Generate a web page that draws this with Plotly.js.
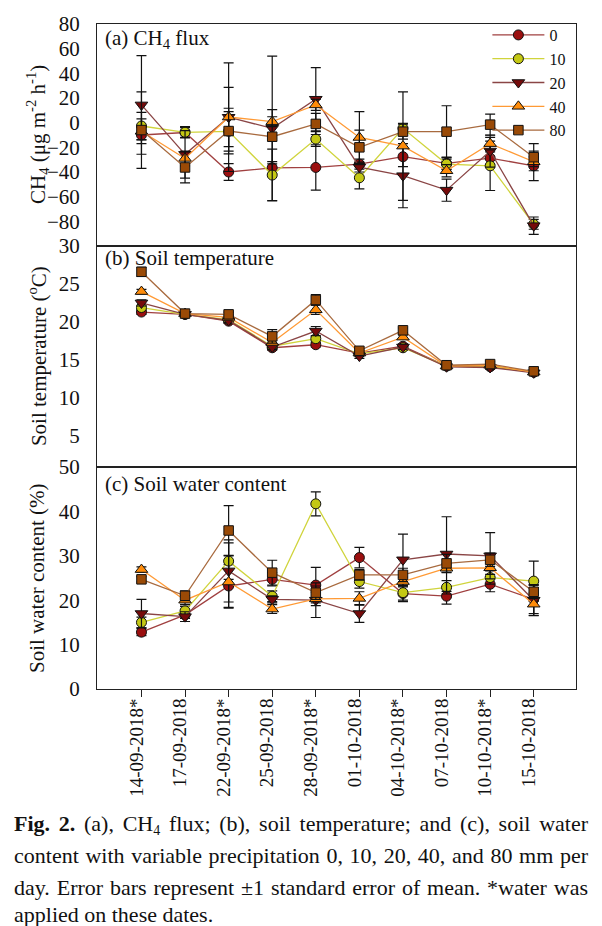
<!DOCTYPE html>
<html>
<head>
<meta charset="utf-8">
<script src="https://cdn.plot.ly/plotly-3.0.1.min.js"></script>
<style>
  html, body { margin: 0; padding: 0; background: #ffffff; }
  #chart { position: absolute; left: 0; top: 0; width: 602px; height: 926px; }
  .cap {
    position: absolute; left: 14px; width: 574px; height: 22px;
    font-family: 'Liberation Serif', serif; white-space: nowrap;
    font-size: 22px; line-height: 22px; color: #111;
    text-align: justify; text-align-last: justify;
  }
  .cap.last { text-align: left; text-align-last: left; }
  .cap sub { font-size: 14px; line-height: 0; vertical-align: -4px; }
</style>
</head>
<body>
<div id="chart"></div>
<div class="cap" style="top:813px;"><b>Fig. 2.</b> (a), CH<sub>4</sub> flux; (b), soil temperature; and (c), soil water</div>
<div class="cap" style="top:845px;">content with variable precipitation 0, 10, 20, 40, and 80 mm per</div>
<div class="cap" style="top:877px;">day. Error bars represent ±1 standard error of mean. *water was</div>
<div class="cap last" style="top:904px;">applied on these dates.</div>
<script>
// ---------- data ----------
const dateLabels = ['14-09-2018*','17-09-2018','22-09-2018*','25-09-2018','28-09-2018*',
                    '01-10-2018','04-10-2018*','07-10-2018','10-10-2018*','15-10-2018'];
const seriesNames = ['0','10','20','40','80'];

// (a) CH4 flux (µg m-2 h-1)
const ch4_0  = [-10, -8, -40, -36.6, -36.3, -33.6, -27.6, -33, -28.7, -35];
const ch4_10 = [-2.7, -7.8, -7, -42.5, -13.3, -44.7, -4.6, -33.6, -35, -82.4];
const ch4_20 = [14.4, -25.7, 4.4, -4.6, 19, -36, -43, -54.7, -23, -83.5];
const ch4_40 = [-7, -29, 4.6, 0.8, 14.4, -12, -19, -39, -17, -31.7];
const ch4_80 = [-6, -36.3, -6.8, -11.4, -1, -20, -7.3, -7.3, -1.6, -28];
const ch4_0_se  = [4, 4, 6.8, 5, 18.4, 4, 8, 5, 5, 12];
const ch4_10_se = [11, 4.6, 16, 21, 6, 9, 4, 4, 20, 4];
const ch4_20_se = [40, 19.3, 44, 58.5, 25.7, 4, 26, 9, 13, 7];
const ch4_40_se = [10, 6, 24, 4, 4.5, 21, 44, 5, 5, 4];
const ch4_80_se = [31, 12.5, 18.5, 22, 8.6, 14, 6, 21, 8.6, 11];

// (b) soil temperature (°C)
const temp_0  = [21.3, 21.0, 20.1, 16.6, 17.0, 15.9, 16.8, 14.2, 14.1, 13.4];
const temp_10 = [21.9, 21.0, 20.3, 16.8, 17.8, 15.8, 16.6, 14.2, 14.2, 13.4];
const temp_20 = [22.5, 21.0, 20.2, 16.7, 18.8, 15.5, 16.7, 14.1, 14.0, 13.3];
const temp_40 = [24.0, 21.1, 20.6, 17.3, 21.6, 15.9, 18.0, 14.2, 14.3, 13.4];
const temp_80 = [26.6, 21.1, 21.0, 18.1, 22.9, 16.2, 18.9, 14.3, 14.45, 13.5];
const temp_0_se  = [0.3, 0.2, 0.3, 0.3, 0.3, 0.3, 0.3, 0.2, 0.2, 0.2];
const temp_10_se = [0.3, 0.2, 0.3, 0.3, 0.3, 0.3, 0.3, 0.2, 0.2, 0.2];
const temp_20_se = [0.4, 0.2, 0.3, 0.3, 0.6, 0.3, 0.3, 0.2, 0.2, 0.2];
const temp_40_se = [0.3, 0.2, 0.3, 0.3, 0.6, 0.3, 0.3, 0.2, 0.2, 0.2];
const temp_80_se = [0.6, 0.2, 0.3, 0.9, 0.7, 0.3, 0.3, 0.3, 0.3, 0.2];

// (c) soil water content (%)
const swc_0  = [12.8, 16.7, 23.2, 24.7, 23.4, 29.6, 21.5, 20.9, 23.6, 20.2];
const swc_10 = [15.0, 17.6, 28.8, 20.9, 41.7, 24.2, 21.7, 22.9, 25.1, 24.3];
const swc_20 = [17.0, 16.3, 26.6, 20.2, 20.0, 17.0, 29.1, 30.4, 30.0, 20.0];
const swc_40 = [26.9, 20.0, 24.1, 18.0, 20.3, 20.4, 24.2, 27.2, 27.3, 19.1];
const swc_80 = [24.7, 21.0, 35.7, 26.2, 21.7, 25.7, 25.7, 28.3, 29.1, 21.9];
const swc_0_se  = [0.8, 0.8, 4.8, 1.5, 4.0, 2.3, 1.5, 1.8, 1.7, 3.2];
const swc_10_se = [1.2, 1.0, 4.1, 1.2, 2.7, 1.5, 2.0, 1.5, 1.5, 4.5];
const swc_20_se = [3.2, 1.1, 7.0, 0.8, 3.9, 2.0, 5.8, 8.4, 5.2, 3.5];
const swc_40_se = [0.6, 1.0, 5.9, 1.0, 1.5, 1.5, 1.0, 1.0, 1.5, 2.5];
const swc_80_se = [0.6, 1.1, 5.6, 2.8, 1.5, 1.2, 1.5, 2.0, 1.5, 1.5];

const ch4Ticks  = [-80, -60, -40, -20, 0, 20, 40, 60, 80];
const tempTicks = [5, 10, 15, 20, 25, 30];
const swcTicks  = [0, 10, 20, 30, 40, 50];

// ---------- styles ----------
const markerFill = ['#9b0f0f', '#c4c814', '#760b0b', '#ff8c0a', '#9a4a06'];
const lineColor  = ['#a04040', '#d0d43c', '#8a4545', '#ff9a35', '#a86a3e'];
const symbols    = ['circle', 'circle', 'triangle-down', 'triangle-up', 'square'];
const sizes      = [10, 10, 11, 11, 9.5];
const FONT = 'Liberation Serif, Times New Roman, serif';

const panels = [
  {x: 'x', y: 'y',  vals: [ch4_0, ch4_10, ch4_20, ch4_40, ch4_80],
   se: [ch4_0_se, ch4_10_se, ch4_20_se, ch4_40_se, ch4_80_se], legend: true},
  {x: 'x2', y: 'y2', vals: [temp_0, temp_10, temp_20, temp_40, temp_80],
   se: [temp_0_se, temp_10_se, temp_20_se, temp_40_se, temp_80_se], legend: false},
  {x: 'x3', y: 'y3', vals: [swc_0, swc_10, swc_20, swc_40, swc_80],
   se: [swc_0_se, swc_10_se, swc_20_se, swc_40_se, swc_80_se], legend: false}
];

const traces = [];
panels.forEach(p => {
  seriesNames.forEach((name, i) => {
    traces.push({
      type: 'scatter', mode: 'lines+markers',
      x: dateLabels, y: p.vals[i], xaxis: p.x, yaxis: p.y,
      name: name, showlegend: p.legend,
      line: {color: lineColor[i], width: 1.3},
      marker: {symbol: symbols[i], size: sizes[i], color: markerFill[i],
               line: {color: '#111', width: 1}},
      error_y: {type: 'data', array: p.se[i], visible: true,
                color: '#111', thickness: 1.2, width: 5}
    });
  });
});

// plot area: left 97, right 576, top 24, bottom 689 (px)
const W = 602, H = 926, L = 97, R = 26, T = 24, B = 926 - 689;
const ph = H - T - B;
const dA = [(689 - 246) / ph, 1];
const dB = [(689 - 467) / ph, (689 - 246) / ph];
const dC = [0, (689 - 467) / ph];

const baseX = {
  type: 'category', range: [-1.02, 9.97], showline: true, mirror: true,
  linecolor: '#222', linewidth: 1, showgrid: false, zeroline: false
};
const baseY = {
  showline: true, mirror: true, linecolor: '#222', linewidth: 1,
  showgrid: false, zeroline: false, ticks: '', ticklabelstandoff: 12,
  tickfont: {family: FONT, size: 21, color: '#111'}
};

const yTitleX = (37 - L) / (W - L - R);
const layout = {
  width: W, height: H,
  margin: {l: L, r: R, t: T, b: B},
  paper_bgcolor: '#ffffff', plot_bgcolor: '#ffffff',
  font: {family: FONT, color: '#111'},
  showlegend: true,
  legend: {x: 0.815, y: 1.009, xanchor: 'left', yanchor: 'top',
           bgcolor: 'rgba(0,0,0,0)', font: {family: FONT, size: 16, color: '#111'},
           tracegroupgap: 0, itemwidth: 52},
  xaxis:  Object.assign({}, baseX, {anchor: 'y', matches: 'x3', showticklabels: false, ticks: ''}),
  xaxis2: Object.assign({}, baseX, {anchor: 'y2', matches: 'x3', showticklabels: false, ticks: ''}),
  xaxis3: Object.assign({}, baseX, {anchor: 'y3', ticks: 'outside', ticklen: 7, tickcolor: '#222',
          tickangle: -90, ticklabelshift: -5, ticklabelstandoff: -6,
          tickfont: {family: FONT, size: 19, color: '#111'}}),
  yaxis:  Object.assign({}, baseY, {domain: dA, range: [-100, 80], tickvals: ch4Ticks}),
  yaxis2: Object.assign({}, baseY, {domain: dB, range: [0.9, 30], tickvals: tempTicks}),
  yaxis3: Object.assign({}, baseY, {domain: dC, range: [0, 50], tickvals: swcTicks}),
  annotations: [
    {xref: 'paper', yref: 'y', x: 0.012, y: 68, xanchor: 'left', yanchor: 'middle', showarrow: false,
     text: '(a) CH<sub>4</sub> flux', font: {family: FONT, size: 21, color: '#111'}},
    {xref: 'paper', yref: 'y2', x: 0.012, y: 28.4, xanchor: 'left', yanchor: 'middle', showarrow: false,
     text: '(b) Soil temperature', font: {family: FONT, size: 21, color: '#111'}},
    {xref: 'paper', yref: 'y3', x: 0.012, y: 46.2, xanchor: 'left', yanchor: 'middle', showarrow: false,
     text: '(c) Soil water content', font: {family: FONT, size: 21, color: '#111'}},
    {xref: 'paper', yref: 'y', x: yTitleX, y: -10, xanchor: 'center', yanchor: 'middle', showarrow: false,
     textangle: -90, text: 'CH<sub>4</sub> (μg m<sup>-2</sup> h<sup>-1</sup>)',
     font: {family: FONT, size: 21, color: '#111'}},
    {xref: 'paper', yref: 'y2', x: yTitleX, y: 15.5, xanchor: 'center', yanchor: 'middle', showarrow: false,
     textangle: -90, text: 'Soil temperature (<sup>o</sup>C)',
     font: {family: FONT, size: 21, color: '#111'}},
    {xref: 'paper', yref: 'y3', x: yTitleX, y: 25, xanchor: 'center', yanchor: 'middle', showarrow: false,
     textangle: -90, text: 'Soil water content (%)',
     font: {family: FONT, size: 21, color: '#111'}}
  ]
};

Plotly.newPlot('chart', traces, layout, {displayModeBar: false, staticPlot: true});
</script>
</body>
</html>
